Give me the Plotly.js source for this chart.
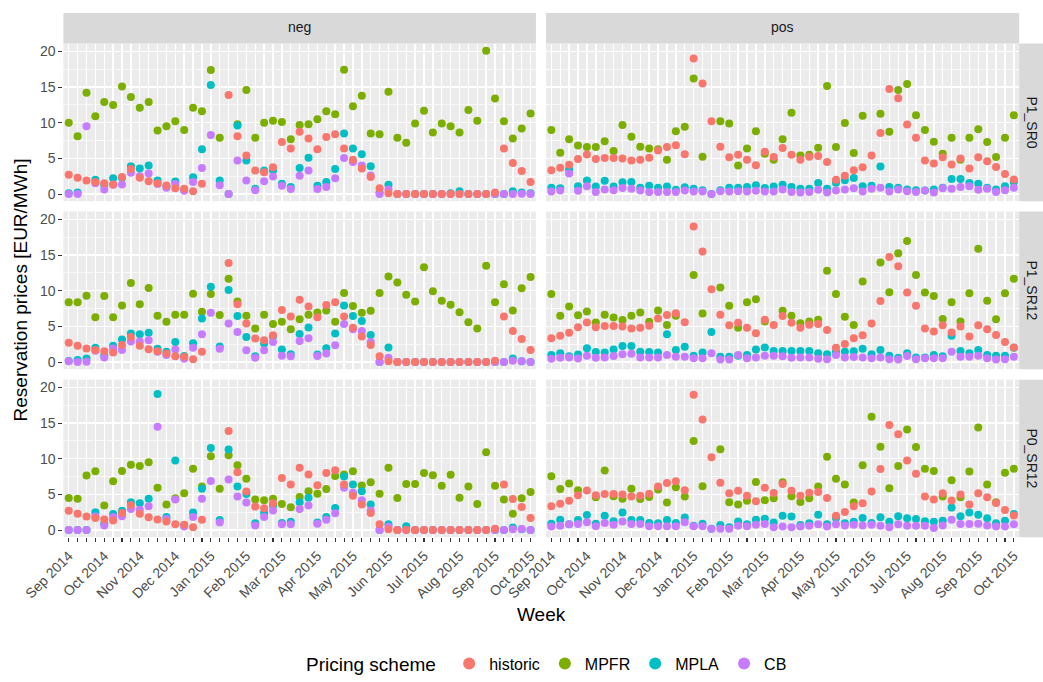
<!DOCTYPE html>
<html>
<head>
<meta charset="utf-8">
<script src="https://cdn.plot.ly/plotly-3.0.1.min.js"></script>
<style>
  html, body { margin: 0; padding: 0; background: #ffffff; }
  #chart { width: 1043px; height: 682px; }
</style>
</head>
<body>
<div id="chart"></div>
<script>
// Week index (categorical x axis), month tick labels and where they sit
const weeks = [1,2,3,4,5,6,7,8,9,10,11,12,13,14,15,16,17,18,19,20,21,22,23,24,25,26,27,
               28,29,30,31,32,33,34,35,36,37,38,39,40,41,42,43,44,45,46,47,48,49,50,51,52,53];
const monthLabels = ["Sep 2014","Oct 2014","Nov 2014","Dec 2014","Jan 2015","Feb 2015","Mar 2015",
                     "Apr 2015","May 2015","Jun 2015","Jul 2015","Aug 2015","Sep 2015","Oct 2015"];
const monthWeeks = [1,5,9,13,17,21,25,29,33,37,41,45,49,53];

const schemes = ["historic","MPFR","MPLA","CB"];
const schemeColors = ["#F8766D","#7CAE00","#00BFC4","#C77CFF"];
const directions = ["neg","pos"];
const scenarios = ["P1_SR0","P1_SR12","P0_SR12"];

// Historic reservation prices (same for every scenario)
const historicNeg = [2.7,2.3,1.9,1.7,1.5,1.35,2.4,3.5,2.3,1.8,
  1.5,1.2,0.8,0.75,0.4,1.45,null,null,13.9,8.1,
  5.4,3.3,3.05,3.75,7.3,6.4,8.75,7.8,6.3,8.0,
  8.4,6.4,4.8,3.6,2.4,0.8,0.1,0,0,0,
  0,0,0,0,0,0,0,0,0.2,6.4,
  4.35,3.25,1.7];
const historicPos = [3.35,3.7,4.1,4.9,5.55,4.9,5.05,5.05,5.0,4.7,
  4.8,5.1,6.1,6.6,6.85,5.6,19.0,15.5,10.2,6.65,
  5.15,5.5,4.8,4.05,5.95,5.2,6.45,5.5,4.8,5.25,
  5.35,4.5,2.0,2.55,3.35,3.75,5.4,8.55,14.75,13.45,
  9.75,7.9,4.7,4.3,5.15,4.15,5.0,3.6,5.15,4.6,
  3.8,2.8,2.05];

// neg / P1_SR0
const mpfrNegP1SR0 = [10.0,8.1,14.2,10.9,12.9,12.5,15.1,13.6,12.1,12.9,
  8.9,9.5,10.2,9.0,12.1,11.6,17.4,7.9,null,9.8,
  14.6,7.9,10.0,10.3,10.1,7.7,9.7,9.8,10.5,11.6,
  11.2,17.45,12.3,13.8,8.5,8.4,14.35,7.9,7.2,9.9,
  11.7,8.65,9.9,9.5,8.65,11.8,10.3,20.1,13.4,10.2,
  7.8,9.2,11.3];
const mplaNegP1SR0 = [0.1,0.2,null,2.0,1.3,2.2,2.3,3.9,3.6,4.0,
  1.9,1.1,1.75,0.55,2.35,6.3,15.3,1.9,0,9.6,
  4.7,0.75,3.3,3.3,1.45,1.0,3.65,5.1,1.15,1.7,
  3.5,8.5,6.4,5.6,3.9,0.2,1.3,0,0,0,
  0,0,0,0.1,0.4,0,0,0,0,0,
  0.4,0.2,0.1];
const cbNegP1SR0 = [0,0,9.5,1.5,0.65,1.3,1.35,3.0,2.5,2.9,
  1.4,0.9,1.4,0.45,1.7,3.65,8.3,1.25,0,4.7,
  1.9,0.55,1.8,2.45,1.15,0.7,2.55,3.3,0.7,1.0,
  2.2,5.05,4.5,4.0,2.6,0,0.65,0,0,0,
  0,0,0,0,0,0,0,0,0,0,
  0,0.05,0];

// neg / P1_SR12
const mpfrNegP1SR12 = [8.4,8.4,9.3,6.3,9.25,6.3,7.95,11.1,8.1,10.4,
  6.5,5.65,6.65,6.65,9.6,7.05,9.55,6.6,11.7,8.5,
  6.5,4.7,6.65,5.35,5.65,4.6,6.0,6.65,6.95,7.25,
  5.65,9.7,7.85,6.9,7.2,9.7,12.0,11.15,9.45,8.5,
  13.3,9.95,8.6,8.05,7.0,5.6,4.7,13.5,8.4,10.9,
  7.25,10.35,11.95];
const mplaNegP1SR12 = [0.15,0.3,0.5,2.0,0.9,2.3,3.15,4.0,3.9,4.1,
  1.85,1.45,2.8,0.85,2.65,6.1,10.55,2.2,10.1,6.45,
  3.5,0.8,2.6,3.6,1.75,1.1,3.95,4.85,1.05,1.95,
  4.0,7.95,6.45,5.75,3.8,0,2.05,0,0,0,
  0,0,0,0,0,0,0,0,0,0,
  0.5,0.1,0];
const cbNegP1SR12 = [0.1,0,0.05,1.6,0.65,1.9,1.7,2.9,2.9,3.05,
  1.45,1.0,1.75,0.45,2.0,3.9,6.9,1.85,5.4,4.2,
  1.65,0.6,1.65,2.8,0.9,0.8,2.95,3.35,0.85,1.2,
  2.35,5.35,4.6,4.35,2.8,0,0.6,0,0,0,
  0,0,0,0,0,0,0,0,0,0,
  0.2,0.1,0];

// neg / P0_SR12
const mpfrNegP0SR12 = [4.5,4.4,7.65,8.25,3.45,6.85,8.3,9.15,9.0,9.5,
  5.95,3.6,4.45,5.15,8.6,6.1,10.35,5.8,10.5,9.1,
  7.2,4.3,4.2,4.4,3.65,3.2,4.65,5.45,5.1,5.75,
  7.6,7.8,8.25,6.25,6.7,5.1,8.75,4.5,6.45,6.45,
  8.0,7.7,6.2,7.75,4.55,6.1,3.65,10.9,6.2,4.3,
  2.3,4.45,5.35];
const mplaNegP0SR12 = [0,0,0,2.5,0.9,2.25,2.7,3.9,3.75,4.4,
  19.1,1.85,9.75,0.65,2.45,5.8,11.5,1.4,11.3,6.1,
  5.05,0.95,2.4,3.45,1.0,1.15,3.9,4.55,1.05,1.85,
  3.1,7.5,6.4,5.45,3.6,0,0.8,0,0.55,0,
  0,0,0,0,0,0,0,0,0,0,
  0.35,0.1,0];
const cbNegP0SR12 = [0,0,0,1.9,0.65,1.85,1.95,2.95,2.85,3.35,
  14.5,1.55,4.3,0.5,1.85,4.4,6.9,1.05,7.1,4.7,
  3.85,0.65,1.85,2.75,0.8,0.8,2.95,3.45,0.9,1.45,
  2.35,5.95,5.25,4.2,2.75,0,0.45,0,0,0,
  0,0,0,0,0,0,0,0,0,0,
  0.1,0.15,0];

// pos / P1_SR0
const mpfrPosP1SR0 = [9.0,5.8,7.7,6.8,6.6,6.6,7.4,6.05,9.7,8.05,
  6.65,6.4,6.3,4.8,8.8,9.45,16.2,5.25,null,10.2,
  9.9,4.0,6.4,8.8,5.65,4.8,7.7,11.4,5.4,5.5,
  6.5,15.15,6.6,9.95,5.75,11.0,null,11.25,8.75,14.6,
  15.45,11.05,9.0,7.35,5.65,7.9,4.8,7.9,9.1,7.3,
  5.2,7.9,11.05];
const mplaPosP1SR0 = [0.9,0.8,3.45,1.1,1.9,1.05,1.85,1.05,1.65,1.7,
  0.9,1.15,0.9,1.05,0.6,0.95,0.75,0.55,0,0.55,
  0.9,0.9,1.0,1.25,0.85,1.05,1.3,1.0,0.75,0.75,
  1.55,0.75,1.6,1.95,2.25,1.1,1.15,3.85,1.0,0.9,
  0.65,0.55,0.5,0.65,0.9,2.1,2.1,1.55,1.45,0.9,
  0.65,1.1,1.7];
const cbPosP1SR0 = [0.35,0.5,2.9,0.45,1.1,0.3,0.65,0.55,0.85,0.75,
  0.5,0.3,0.3,0.3,0.3,0.5,0.35,0.35,0,0.4,
  0.35,0.4,0.35,0.45,0.35,0.35,0.65,0.3,0.2,0.3,
  0.6,0.2,0.5,0.65,0.8,0.35,0.75,0.9,0.35,0.65,
  0.4,0.3,0.5,0.2,0.8,0.75,1.0,1.1,0.6,0.75,
  0.3,0.55,0.9];

// pos / P1_SR12
const mpfrPosP1SR12 = [9.55,6.5,7.8,6.55,7.1,5.55,6.65,6.25,5.9,6.5,
  6.95,5.65,7.25,5.2,6.5,null,12.2,6.8,null,10.45,
  7.9,4.8,8.4,8.8,5.7,null,7.2,6.5,5.45,5.7,
  5.95,12.8,9.55,6.35,5.2,11.3,null,13.95,9.8,15.25,
  17.0,12.2,9.75,9.25,6.05,8.4,5.7,9.65,15.9,8.6,
  6.0,9.65,11.7];
const mplaPosP1SR12 = [1.0,1.25,0.8,1.05,1.95,1.4,1.35,1.75,2.25,2.25,
  1.45,1.4,1.35,3.9,1.7,2.15,0.9,1.35,4.2,0.75,
  0.75,0.9,1.0,1.75,2.05,1.55,1.55,1.55,1.55,1.55,
  1.25,1.1,1.45,1.45,1.5,1.85,1.1,1.7,0.9,0.6,
  1.25,0.65,0.65,1.0,0.8,3.7,1.55,1.25,1.7,1.0,
  0.9,0.9,2.0];
const cbPosP1SR12 = [0.45,0.6,0.65,0.5,0.9,0.6,0.65,0.85,1.1,1.15,
  0.65,0.65,0.65,1.0,0.75,0.75,0.55,0.55,1.25,0.35,
  0.35,1.0,0.55,0.65,0.9,0.9,0.8,0.6,0.65,0.65,
  0.45,0.4,1.0,0.65,0.7,0.65,0.55,0.65,0.4,0.35,
  0.85,0.4,0.55,0.55,0.55,1.45,0.75,0.75,0.9,0.55,
  0.35,0.4,0.75];

// pos / P0_SR12
const mpfrPosP0SR12 = [7.55,5.75,6.55,5.6,null,4.6,8.35,4.75,4.4,5.8,
  4.35,4.65,5.7,3.85,6.0,4.7,12.5,6.15,null,11.35,
  3.9,3.6,4.1,6.75,4.2,4.45,6.7,4.75,3.95,4.45,
  6.1,10.3,7.2,6.4,3.85,9.1,15.9,11.7,5.85,9.0,
  14.1,11.65,8.6,8.3,4.7,7.0,4.6,8.2,14.4,6.4,
  3.9,8.05,8.6];
const mplaPosP0SR12 = [0.9,1.45,0.8,1.4,2.1,0.9,2.0,1.25,2.45,1.4,
  1.4,1.0,0.95,1.4,1.0,1.75,0.6,0.9,0.2,0.7,
  0.4,1.2,0.8,1.45,1.6,1.05,2.0,1.9,0.7,0.95,
  2.15,0.8,1.7,0.95,1.15,1.7,1.0,1.8,1.15,1.95,
  1.65,1.55,1.25,1.15,1.3,3.15,1.95,2.45,2.15,1.65,
  0.95,1.3,2.25];
const cbPosP0SR12 = [0.5,0.6,0.8,0.85,1.1,0.55,1.0,0.75,1.2,0.85,
  0.85,0.55,0.55,0.55,0.55,1.1,0.55,0.55,0.2,0.2,
  0.2,0.6,0.55,0.75,0.85,0.4,0.5,0.4,0.5,0.6,
  0.8,0.5,0.8,0.65,0.75,0.65,0.75,0.6,0.4,0.8,
  0.6,0.6,0.6,0.3,0.65,1.45,0.85,0.85,0.9,0.65,
  0.5,0.5,0.8];

// Lookup: panel[scenario][direction] -> series per pricing scheme
const panel = {
  P1_SR0:  { neg: { historic: historicNeg, MPFR: mpfrNegP1SR0,  MPLA: mplaNegP1SR0,  CB: cbNegP1SR0 },
             pos: { historic: historicPos, MPFR: mpfrPosP1SR0,  MPLA: mplaPosP1SR0,  CB: cbPosP1SR0 } },
  P1_SR12: { neg: { historic: historicNeg, MPFR: mpfrNegP1SR12, MPLA: mplaNegP1SR12, CB: cbNegP1SR12 },
             pos: { historic: historicPos, MPFR: mpfrPosP1SR12, MPLA: mplaPosP1SR12, CB: cbPosP1SR12 } },
  P0_SR12: { neg: { historic: historicNeg, MPFR: mpfrNegP0SR12, MPLA: mplaNegP0SR12, CB: cbNegP0SR12 },
             pos: { historic: historicPos, MPFR: mpfrPosP0SR12, MPLA: mplaPosP0SR12, CB: cbPosP0SR12 } }
};

// ---- geometry (pixels in a 1043 x 682 figure) ----
const W = 1043, H = 682;
const colPx = [[63.4, 535.9], [546.0, 1019.2]];
const rowPx = [[44, 203], [213.5, 372.5], [383, 542]];
const stripTop = 13;
const px = v => v / W;
const py = v => 1 - v / H;

const FONT = "Liberation Sans, Arial, Helvetica, sans-serif";
const tickText = weeks.map(w => {
  const k = monthWeeks.indexOf(w);
  return k >= 0 ? monthLabels[k] : "";
});

// draw MPFR first and historic last so historic sits on top
const drawOrder = ["MPFR", "MPLA", "CB", "historic"];

const traces = [];
const layout = {
  width: W, height: H,
  margin: { l: 0, r: 0, t: 0, b: 0 },
  paper_bgcolor: "#FFFFFF",
  plot_bgcolor: "#EBEBEB",
  font: { family: FONT, color: "#000000" },
  showlegend: true,
  legend: {
    orientation: "h",
    x: 548 / W, xanchor: "center",
    y: py(670), yanchor: "middle",
    title: { text: "Pricing scheme ", side: "left", font: { size: 19, color: "#000000" } },
    font: { size: 16, color: "#000000" },
    itemsizing: "constant",
    traceorder: "normal",
    bgcolor: "rgba(0,0,0,0)"
  },
  shapes: [],
  annotations: []
};

scenarios.forEach((sc, r) => {
  directions.forEach((dir, c) => {
    const n = r * 2 + c + 1;
    const xa = "x" + (n > 1 ? n : "");
    const ya = "y" + (n > 1 ? n : "");
    const bottom = r === scenarios.length - 1;
    const left = c === 0;

    layout["xaxis" + (n > 1 ? n : "")] = {
      domain: [px(colPx[c][0]), px(colPx[c][1])],
      anchor: ya,
      range: [0.4, 53.6],
      tickmode: "array",
      tickvals: weeks,
      ticktext: tickText,
      tickangle: -45,
      showticklabels: bottom,
      ticks: bottom ? "outside" : "",
      ticklen: 4, tickwidth: 1.1, tickcolor: "#333333",
      tickfont: { family: FONT, size: 14, color: "#4D4D4D" },
      showgrid: true, gridcolor: "#FFFFFF", gridwidth: 1.4,
      zeroline: false, showline: false, fixedrange: true
    };
    layout["yaxis" + (n > 1 ? n : "")] = {
      domain: [py(rowPx[r][1]), py(rowPx[r][0])],
      anchor: xa,
      range: [-1.005, 21.105],
      tickmode: "array",
      tickvals: [0, 5, 10, 15, 20],
      showticklabels: left,
      ticks: left ? "outside" : "",
      ticklen: 4, tickwidth: 1.1, tickcolor: "#333333",
      tickfont: { family: FONT, size: 14, color: "#4D4D4D" },
      showgrid: true, gridcolor: "#FFFFFF", gridwidth: 1.4,
      minor: { tickmode: "array", tickvals: [2.5, 7.5, 12.5, 17.5], showgrid: true,
               gridcolor: "#FFFFFF", gridwidth: 0.7, ticks: "" },
      zeroline: false, showline: false, fixedrange: true
    };

    drawOrder.forEach(s => {
      const k = schemes.indexOf(s);
      traces.push({
        type: "scatter", mode: "markers",
        x: weeks, y: panel[sc][dir][s],
        xaxis: xa, yaxis: ya,
        name: s, legendgroup: s, legendrank: k + 1,
        showlegend: n === 1,
        marker: { color: schemeColors[k], size: 8, line: { width: 0 } },
        hoverinfo: "skip"
      });
    });
  });
});

// column strips (top)
directions.forEach((dir, c) => {
  layout.shapes.push({
    type: "rect", xref: "paper", yref: "paper", layer: "below",
    x0: px(colPx[c][0]), x1: px(colPx[c][1]), y0: py(rowPx[0][0]), y1: py(stripTop),
    fillcolor: "#D9D9D9", line: { width: 0 }
  });
  layout.annotations.push({
    xref: "paper", yref: "paper", showarrow: false,
    x: px((colPx[c][0] + colPx[c][1]) / 2), y: py((stripTop + rowPx[0][0]) / 2 - 1),
    xanchor: "center", yanchor: "middle",
    text: dir, font: { family: FONT, size: 14, color: "#1A1A1A" }
  });
});

// row strips (right)
scenarios.forEach((sc, r) => {
  layout.shapes.push({
    type: "rect", xref: "paper", yref: "paper", layer: "below",
    x0: px(1019.2), x1: 1.01, y0: py(rowPx[r][1]), y1: py(rowPx[r][0]),
    fillcolor: "#D9D9D9", line: { width: 0 }
  });
  layout.annotations.push({
    xref: "paper", yref: "paper", showarrow: false,
    x: px(1032), y: py((rowPx[r][0] + rowPx[r][1]) / 2),
    xanchor: "center", yanchor: "middle", textangle: 90,
    text: sc, font: { family: FONT, size: 14, color: "#1A1A1A" }
  });
});

// axis titles
layout.annotations.push({
  xref: "paper", yref: "paper", showarrow: false,
  x: px((colPx[0][0] + colPx[1][1]) / 2), y: py(620),
  xanchor: "center", yanchor: "middle",
  text: "Week", font: { family: FONT, size: 19, color: "#000000" }
});
layout.annotations.push({
  xref: "paper", yref: "paper", showarrow: false,
  x: px(20), y: py((rowPx[0][0] + rowPx[2][1]) / 2),
  xanchor: "center", yanchor: "middle", textangle: -90,
  text: "Reservation prices [EUR/MWh]", font: { family: FONT, size: 19, color: "#000000" }
});

Plotly.newPlot("chart", traces, layout, { displayModeBar: false, staticPlot: true });
</script>
</body>
</html>
